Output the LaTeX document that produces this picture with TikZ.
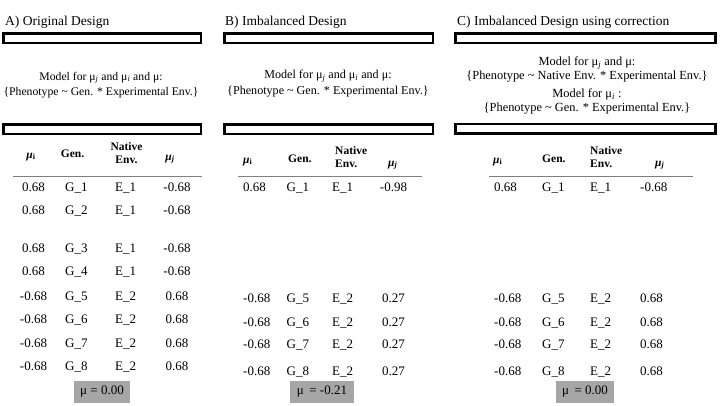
\documentclass[tikz,border=0pt]{standalone}
\usepackage{fontspec}
\setmainfont{Liberation Serif}
\usepackage{tikz}
\usetikzlibrary{positioning}
\definecolor{rulegray}{HTML}{7F7F7F}
\definecolor{meanfill}{HTML}{A6A6A6}

\begin{document}
\begin{tikzpicture}[
  x=1pt, y=-1pt,
  title/.style={anchor=base west, inner sep=0pt, font=\fontsize{13.5}{16}\selectfont},
  bar/.style={draw=black, line width=2.5pt, minimum height=9.5pt, inner sep=0pt},
  model/.style={anchor=base, inner sep=0pt, align=center, font=\fontsize{#1}{15.5}\selectfont},
  modeltight/.style={anchor=base, inner sep=0pt, align=center, font=\fontsize{12.4}{13.5}\selectfont},
  head/.style={inner sep=0pt, font=\fontsize{11.5}{13}\selectfont\bfseries},
  ctr/.style={anchor=base, inner sep=0pt, font=\fontsize{13}{15}\selectfont},
  lft/.style={anchor=base west, inner sep=0pt, font=\fontsize{13}{15}\selectfont},
  rule/.style={draw=rulegray, line width=1pt},
  meanbox/.style={fill=meanfill, inner sep=0pt, minimum height=22pt, font=\fontsize{13}{15}\selectfont}
]
\useasboundingbox (0,0) rectangle (720,405);

% A) original design
\node[title] (titleA) at (5,25) {A) Original Design};
\node[bar, minimum width=197.5pt] (barA) at (102,38) {};
\node[model=11.7] (modelA) at (101,95.5) {Model for μ\textsubscript{\textit{j}} and μ\textsubscript{\textit{i}} and μ:\\\{Phenotype \textasciitilde{} Gen. * Experimental Env.\}};
\node[bar, minimum width=197.5pt] (barAb) at (102,129) {};
\node[head, anchor=base] (hAi) at (31,158) {\textit{μ}\textsubscript{i}};
\node[head, anchor=base] (hAg) at (72.5,157) {Gen.};
\node[head, anchor=base, align=center] (hAe) at (126.5,163) {Native\\Env.};
\node[head, anchor=base] (hAj) at (170,160) {\textit{μ\textsubscript{j}}};
\coordinate (ruleAl) at (13,176);
\coordinate (ruleAr) at (202,176);
\draw[rule] (ruleAl) -- (ruleAr);

\node[ctr] (a1i) at (33.5,191.5) {0.68}; \node[lft] (a1g) at (65,191.5) {G\_1}; \node[lft] (a1e) at (115,191.5) {E\_1}; \node[ctr] (a1j) at (177,191.5) {-0.68};
\node[ctr] (a2i) at (33.5,214) {0.68}; \node[lft] (a2g) at (65,214) {G\_2}; \node[lft] (a2e) at (115,214) {E\_1}; \node[ctr] (a2j) at (177,214) {-0.68};
\node[ctr] (a3i) at (33.5,252.5) {0.68}; \node[lft] (a3g) at (65,252.5) {G\_3}; \node[lft] (a3e) at (115,252.5) {E\_1}; \node[ctr] (a3j) at (177,252.5) {-0.68};
\node[ctr] (a4i) at (33.5,275.5) {0.68}; \node[lft] (a4g) at (65,275.5) {G\_4}; \node[lft] (a4e) at (115,275.5) {E\_1}; \node[ctr] (a4j) at (177,275.5) {-0.68};
\node[ctr] (a5i) at (33.5,300.5) {-0.68}; \node[lft] (a5g) at (65,300.5) {G\_5}; \node[lft] (a5e) at (115,300.5) {E\_2}; \node[ctr] (a5j) at (177,300.5) {0.68};
\node[ctr] (a6i) at (33.5,323.5) {-0.68}; \node[lft] (a6g) at (65,323.5) {G\_6}; \node[lft] (a6e) at (115,323.5) {E\_2}; \node[ctr] (a6j) at (177,323.5) {0.68};
\node[ctr] (a7i) at (33.5,347.5) {-0.68}; \node[lft] (a7g) at (65,347.5) {G\_7}; \node[lft] (a7e) at (115,347.5) {E\_2}; \node[ctr] (a7j) at (177,347.5) {0.68};
\node[ctr] (a8i) at (33.5,370) {-0.68}; \node[lft] (a8g) at (65,370) {G\_8}; \node[lft] (a8e) at (115,370) {E\_2}; \node[ctr] (a8j) at (177,370) {0.68};
\node[meanbox, minimum width=56pt] (meanA) at (102,392) {μ = 0.00};

% B) imbalanced design
\node[title] (titleB) at (225,25) {B) Imbalanced Design};
\node[bar, minimum width=208.5pt] (barB) at (328.5,38) {};
\node[model=12.1] (modelB) at (328,94) {Model for μ\textsubscript{\textit{j}} and μ\textsubscript{\textit{i}} and μ:\\\{Phenotype \textasciitilde{} Gen. * Experimental Env.\}};
\node[bar, minimum width=208.5pt] (barBb) at (328.5,129) {};
\node[head, anchor=base west] (hBi) at (243,163) {\textit{μ}\textsubscript{i}};
\node[head, anchor=base west] (hBg) at (288,162) {Gen.};
\node[head, anchor=base west, align=left] (hBe) at (335,167) {Native\\Env.};
\node[head, anchor=base west] (hBj) at (388,166) {\textit{μ\textsubscript{j}}};
\coordinate (ruleBl) at (238,176);
\coordinate (ruleBr) at (422,176);
\draw[rule] (ruleBl) -- (ruleBr);

\node[lft] (b1i) at (243,191.5) {0.68}; \node[lft] (b1g) at (286.5,191.5) {G\_1}; \node[lft] (b1e) at (332,191.5) {E\_1}; \node[ctr] (b1j) at (393.5,191.5) {-0.98};
\node[lft] (b5i) at (243,302) {-0.68}; \node[lft] (b5g) at (286.5,302) {G\_5}; \node[lft] (b5e) at (332,302) {E\_2}; \node[ctr] (b5j) at (393.5,302) {0.27};
\node[lft] (b6i) at (243,326) {-0.68}; \node[lft] (b6g) at (286.5,326) {G\_6}; \node[lft] (b6e) at (332,326) {E\_2}; \node[ctr] (b6j) at (393.5,326) {0.27};
\node[lft] (b7i) at (243,348) {-0.68}; \node[lft] (b7g) at (286.5,348) {G\_7}; \node[lft] (b7e) at (332,348) {E\_2}; \node[ctr] (b7j) at (393.5,348) {0.27};
\node[lft] (b8i) at (243,375.5) {-0.68}; \node[lft] (b8g) at (286.5,375.5) {G\_8}; \node[lft] (b8e) at (332,375.5) {E\_2}; \node[ctr] (b8j) at (393.5,375.5) {0.27};
\node[meanbox, minimum width=64pt] (meanB) at (322,392) {μ \,= -0.21};

% C) imbalanced design using correction
\node[title] (titleC) at (457,25) {C) Imbalanced Design using correction};
\node[bar, minimum width=260pt] (barC) at (585.5,38) {};
\node[modeltight] (modelC1) at (587,79) {Model for μ\textsubscript{\textit{j}} and μ:\\\{Phenotype \textasciitilde{} Native Env. * Experimental Env.\}};
\node[modeltight] (modelC2) at (587,111) {Model for μ\textsubscript{\textit{i}} :\\\{Phenotype \textasciitilde{} Gen. * Experimental Env.\}};
\node[bar, minimum width=260pt] (barCb) at (585.5,128.5) {};
\node[head, anchor=base west] (hCi) at (493,163) {\textit{μ}\textsubscript{i}};
\node[head, anchor=base west] (hCg) at (542,162) {Gen.};
\node[head, anchor=base west, align=left] (hCe) at (590,167) {Native\\Env.};
\node[head, anchor=base west] (hCj) at (655,166) {\textit{μ\textsubscript{j}}};
\coordinate (ruleCl) at (489,176);
\coordinate (ruleCr) at (693,176);
\draw[rule] (ruleCl) -- (ruleCr);

\node[lft] (c1i) at (494,191.5) {0.68}; \node[lft] (c1g) at (542,191.5) {G\_1}; \node[lft] (c1e) at (590,191.5) {E\_1}; \node[lft] (c1j) at (640,191.5) {-0.68};
\node[lft] (c5i) at (494,302) {-0.68}; \node[lft] (c5g) at (542,302) {G\_5}; \node[lft] (c5e) at (590,302) {E\_2}; \node[lft] (c5j) at (640,302) {0.68};
\node[lft] (c6i) at (494,326) {-0.68}; \node[lft] (c6g) at (542,326) {G\_6}; \node[lft] (c6e) at (590,326) {E\_2}; \node[lft] (c6j) at (640,326) {0.68};
\node[lft] (c7i) at (494,348) {-0.68}; \node[lft] (c7g) at (542,348) {G\_7}; \node[lft] (c7e) at (590,348) {E\_2}; \node[lft] (c7j) at (640,348) {0.68};
\node[lft] (c8i) at (494,375.5) {-0.68}; \node[lft] (c8g) at (542,375.5) {G\_8}; \node[lft] (c8e) at (590,375.5) {E\_2}; \node[lft] (c8j) at (640,375.5) {0.68};
\node[meanbox, minimum width=58pt] (meanC) at (585,392) {μ \,= 0.00};
\end{tikzpicture}
\end{document}
